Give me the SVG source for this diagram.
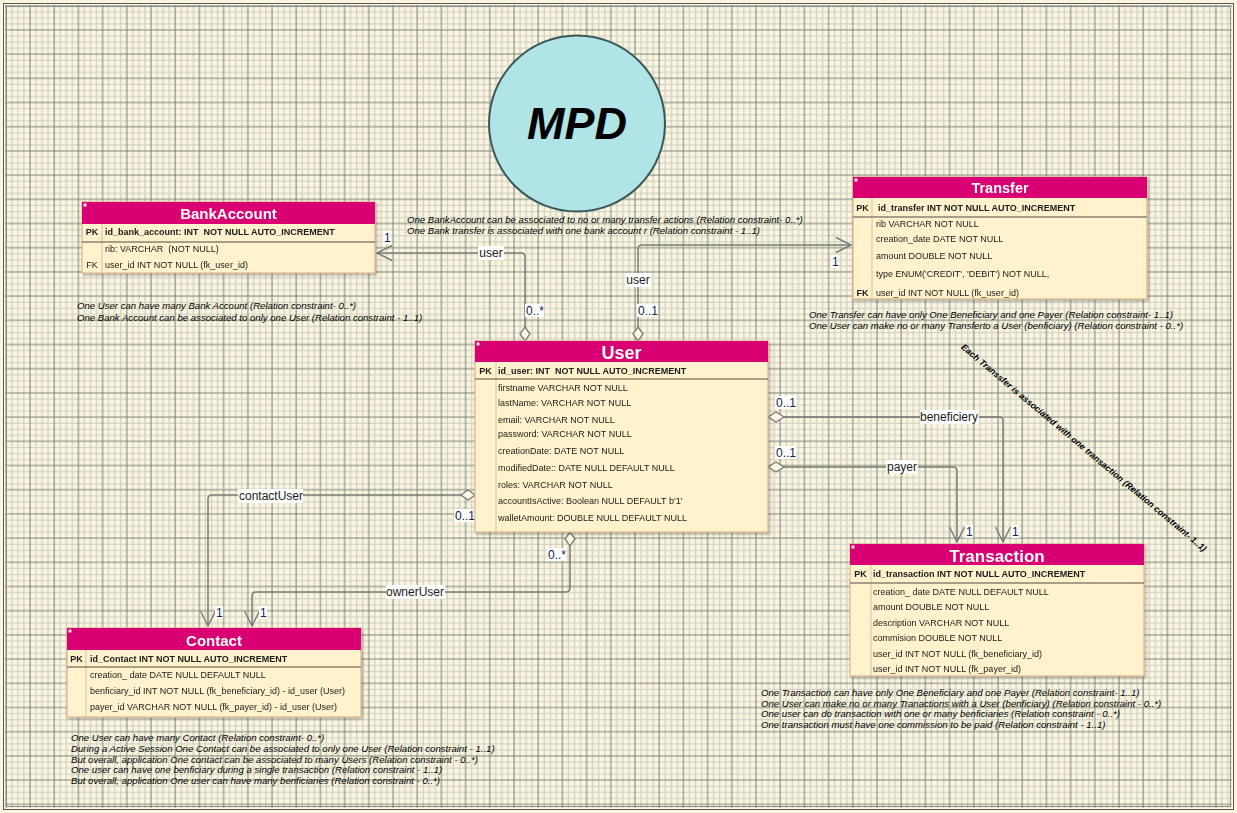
<svg xmlns="http://www.w3.org/2000/svg" width="1237" height="813" viewBox="0 0 1237 813">
<defs>
<pattern id="grid" x="27" y="27" width="24.2" height="24.2" patternUnits="userSpaceOnUse">
<path d="M9.05,0V24.2M15.1,0V24.2M21.15,0V24.2M0,9.05H24.2M0,15.1H24.2M0,21.15H24.2" stroke="#d2d3c6" stroke-width="1.4" fill="none"/>
<path d="M3,0V24.2M0,3H24.2" stroke="#6f8278" stroke-width="1" fill="none"/>
</pattern>
<marker id="arr" viewBox="-2 -2 19 19" refX="15" refY="7.5" markerWidth="19" markerHeight="19" markerUnits="userSpaceOnUse" orient="auto">
<path d="M0,0 L15,7.5 L0,15" fill="none" stroke="#7a7a7a" stroke-width="1.4"/>
</marker>
<filter id="sh" x="-5%" y="-5%" width="110%" height="115%"><feDropShadow dx="1.5" dy="2" stdDeviation="1" flood-color="#000" flood-opacity="0.25"/></filter>
</defs>
<style>
text{font-family:"Liberation Sans",Arial,sans-serif;white-space:pre}
.hd{font-weight:bold;fill:#fff;text-anchor:middle}
.pk{font-size:9px;font-weight:bold;fill:#1a1a1a}
.pkl{font-size:9px;font-weight:bold;fill:#1a1a1a;text-anchor:middle}
.row{font-size:9px;fill:#1a1a1a}
.note{font-size:9.6px;font-style:italic;fill:#000}
.lbl{font-size:12px;fill:#1a1a1a;text-anchor:middle}
.mul{font-size:12px;fill:#12224a}
.body{fill:#fff2cc;stroke:#d9b48e;stroke-width:1.2}
.head{fill:#d80073}
.sep{stroke:#8c7f72;stroke-width:1.5}
.div{stroke:#dcc09c;stroke-width:1}
.mk{fill:#e8e8e8}
.conn{fill:none;stroke:#7a7a7a;stroke-width:1.5;stroke-linejoin:round}
.dia{fill:#fff8e6;stroke:#7a7a7a;stroke-width:1.3}
.bg{fill:#fff}
</style>
<rect width="1237" height="813" fill="#fdf5df"/>
<rect x="5" y="5" width="1227" height="803" fill="url(#grid)"/>
<rect x="3.5" y="3.5" width="1230" height="806" fill="none" stroke="#5a5a5a" stroke-width="1"/>
<rect x="6.5" y="6.5" width="1224" height="800" fill="none" stroke="#8a8a8a" stroke-width="1"/>

<g id="mpd">
<circle cx="577" cy="123.5" r="88" fill="#b1e4e7" stroke="#3b5858" stroke-width="2"/>
<text x="577" y="139" style="font-size:45px;font-weight:bold;font-style:italic;fill:#000;text-anchor:middle">MPD</text>
</g>

<g id="connectors">
<path class="conn" d="M525,327 V257 Q525,253 521,253 H377" marker-end="url(#arr)"/>
<path class="dia" d="M525,327 L530,334 L525,341 L520,334 Z"/>
<path class="conn" d="M638,327 V249 Q638,245 642,245 H851" marker-end="url(#arr)"/>
<path class="dia" d="M638,327 L643,334 L638,341 L633,334 Z"/>
<path class="conn" d="M784,417 H999 Q1003,417 1003,421 V542" marker-end="url(#arr)"/>
<path class="dia" d="M768,417 L776,412 L784,417 L776,422 Z"/>
<path class="conn" d="M784,467 H953 Q957,467 957,471 V542" marker-end="url(#arr)"/>
<path class="dia" d="M768,467 L776,462 L784,467 L776,472 Z"/>
<path class="conn" d="M461,495 H212 Q208,495 208,499 V626" marker-end="url(#arr)"/>
<path class="dia" d="M475,495 L468,490 L461,495 L468,500 Z"/>
<path class="conn" d="M570,546 V588 Q570,592 566,592 H256 Q252,592 252,596 V626" marker-end="url(#arr)"/>
<path class="dia" d="M570,532 L575,539 L570,546 L565,539 Z"/>

<rect class="bg" x="478" y="246" width="26" height="14"/>
<text class="lbl" x="491" y="257">user</text>
<rect class="bg" x="625" y="273" width="26" height="14"/>
<text class="lbl" x="638" y="284">user</text>
<rect class="bg" x="920" y="410" width="59" height="14"/>
<text class="lbl" x="949" y="421">beneficiery</text>
<rect class="bg" x="886" y="460" width="32" height="14"/>
<text class="lbl" x="902" y="471">payer</text>
<rect class="bg" x="238" y="489" width="65" height="14"/>
<text class="lbl" x="271" y="500">contactUser</text>
<rect class="bg" x="386" y="585" width="59" height="14"/>
<text class="lbl" x="415" y="596">ownerUser</text>

<rect class="bg" x="383" y="231" width="8" height="13"/>
<text class="mul" x="384" y="242">1</text>
<rect class="bg" x="525" y="304" width="19" height="13"/>
<text class="mul" x="526" y="315">0..*</text>
<rect class="bg" x="637" y="304" width="21" height="13"/>
<text class="mul" x="638" y="315">0..1</text>
<rect class="bg" x="831" y="255" width="8" height="13"/>
<text class="mul" x="832" y="266">1</text>
<rect class="bg" x="775" y="396" width="21" height="13"/>
<text class="mul" x="776" y="407">0..1</text>
<rect class="bg" x="775" y="446" width="21" height="13"/>
<text class="mul" x="776" y="457">0..1</text>
<rect class="bg" x="965" y="525" width="8" height="13"/>
<text class="mul" x="966" y="536">1</text>
<rect class="bg" x="1011" y="525" width="8" height="13"/>
<text class="mul" x="1012" y="536">1</text>
<rect class="bg" x="454" y="509" width="21" height="13"/>
<text class="mul" x="455" y="520">0..1</text>
<rect class="bg" x="547" y="548" width="19" height="13"/>
<text class="mul" x="548" y="559">0..*</text>
<rect class="bg" x="215" y="606" width="8" height="13"/>
<text class="mul" x="216" y="617">1</text>
<rect class="bg" x="259" y="606" width="8" height="13"/>
<text class="mul" x="260" y="617">1</text>
</g>

<g id="bankaccount" filter="url(#sh)">
<rect class="body" x="82" y="202" width="293" height="71"/>
<rect class="head" x="82" y="202" width="293" height="22"/>
<rect class="mk" x="83.5" y="203.5" width="3" height="3"/>
<line class="div" x1="102" y1="224" x2="102" y2="273"/>
<line class="sep" x1="82" y1="242" x2="375" y2="242"/>
<text class="hd" x="228.5" y="219" style="font-size:15px">BankAccount</text>
<text class="pkl" x="92" y="235">PK</text>
<text class="pk" x="105" y="235">id_bank_account: INT  NOT NULL AUTO_INCREMENT</text>
<text class="row" x="105" y="252">rib: VARCHAR  (NOT NULL)</text>
<text class="row" x="92" y="268" style="text-anchor:middle">FK</text>
<text class="row" x="105" y="268">user_id INT NOT NULL (fk_user_id)</text>
</g>

<g id="transfer" filter="url(#sh)">
<rect class="body" x="853" y="177" width="294" height="122"/>
<rect class="head" x="853" y="177" width="294" height="21"/>
<rect class="mk" x="854.5" y="178.5" width="3" height="3"/>
<line class="div" x1="872" y1="198" x2="872" y2="299"/>
<line class="sep" x1="853" y1="217" x2="1147" y2="217"/>
<text class="hd" x="1000" y="193" style="font-size:14.5px">Transfer</text>
<text class="pkl" x="862.5" y="210.5">PK</text>
<text class="pk" x="878" y="210.5">id_transfer INT NOT NULL AUTO_INCREMENT</text>
<text class="row" x="876" y="226.5">rib VARCHAR NOT NULL</text>
<text class="row" x="876" y="242">creation_date DATE NOT NULL</text>
<text class="row" x="876" y="259">amount DOUBLE NOT NULL</text>
<text class="row" x="876" y="277">type ENUM('CREDIT', 'DEBIT') NOT NULL,</text>
<text class="pkl" x="862.5" y="296">FK</text>
<text class="row" x="876" y="296">user_id INT NOT NULL (fk_user_id)</text>
</g>

<g id="user" filter="url(#sh)">
<rect class="body" x="475" y="341" width="293" height="191"/>
<rect class="head" x="475" y="341" width="293" height="21"/>
<rect class="mk" x="476.5" y="342.5" width="3" height="3"/>
<line class="div" x1="496" y1="362" x2="496" y2="532"/>
<line class="sep" x1="475" y1="379" x2="768" y2="379"/>
<text class="hd" x="621.5" y="359" style="font-size:18px">User</text>
<text class="pkl" x="485.5" y="374">PK</text>
<text class="pk" x="498" y="374">id_user: INT  NOT NULL AUTO_INCREMENT</text>
<text class="row" x="498" y="390.5">firstname VARCHAR NOT NULL</text>
<text class="row" x="498" y="406">lastName: VARCHAR NOT NULL</text>
<text class="row" x="498" y="422.5">email: VARCHAR NOT NULL</text>
<text class="row" x="498" y="437">password: VARCHAR NOT NULL</text>
<text class="row" x="498" y="454">creationDate: DATE NOT NULL</text>
<text class="row" x="498" y="471">modifiedDate:: DATE NULL DEFAULT NULL</text>
<text class="row" x="498" y="487.5">roles: VARCHAR NOT NULL</text>
<text class="row" x="498" y="504">accountIsActive: Boolean NULL DEFAULT b'1'</text>
<text class="row" x="498" y="521">walletAmount: DOUBLE NULL DEFAULT NULL</text>
</g>

<g id="transaction" filter="url(#sh)">
<rect class="body" x="850" y="544" width="294" height="132"/>
<rect class="head" x="850" y="544" width="294" height="21"/>
<rect class="mk" x="851.5" y="545.5" width="3" height="3"/>
<line class="div" x1="871" y1="565" x2="871" y2="676"/>
<line class="sep" x1="850" y1="583" x2="1144" y2="583"/>
<text class="hd" x="997" y="562" style="font-size:17px">Transaction</text>
<text class="pkl" x="860.5" y="577">PK</text>
<text class="pk" x="873" y="577">id_transaction INT NOT NULL AUTO_INCREMENT</text>
<text class="row" x="873" y="595">creation_ date DATE NULL DEFAULT NULL</text>
<text class="row" x="873" y="610">amount DOUBLE NOT NULL</text>
<text class="row" x="873" y="626">description VARCHAR NOT NULL</text>
<text class="row" x="873" y="640.5">commision DOUBLE NOT NULL</text>
<text class="row" x="873" y="656.5">user_id INT NOT NULL (fk_beneficiary_id)</text>
<text class="row" x="873" y="671.5">user_id INT NOT NULL (fk_payer_id)</text>
</g>

<g id="contact" filter="url(#sh)">
<rect class="body" x="67" y="628" width="294" height="89"/>
<rect class="head" x="67" y="628" width="294" height="22"/>
<rect class="mk" x="68.5" y="629.5" width="3" height="3"/>
<line class="div" x1="86" y1="650" x2="86" y2="717"/>
<line class="sep" x1="67" y1="667" x2="361" y2="667"/>
<text class="hd" x="214" y="646" style="font-size:15px">Contact</text>
<text class="pkl" x="76.5" y="661.5">PK</text>
<text class="pk" x="90" y="661.5">id_Contact INT NOT NULL AUTO_INCREMENT</text>
<text class="row" x="90" y="678">creation_ date DATE NULL DEFAULT NULL</text>
<text class="row" x="90" y="694">benficiary_id INT NOT NULL (fk_beneficiary_id) - id_user (User)</text>
<text class="row" x="90" y="710">payer_id VARCHAR NOT NULL (fk_payer_id) - id_user (User)</text>
</g>

<g id="notes">
<text class="note" x="407" y="223">One BankAccount can be associated to no or many transfer actions (Relation constraint- 0..*)</text>
<text class="note" x="407" y="234">One Bank transfer is associated with one bank account r (Relation constraint - 1..1)</text>
<text class="note" x="77" y="308.5">One User can have many Bank Account (Relation constraint- 0..*)</text>
<text class="note" x="77" y="321">One Bank Account can be associated to only one User (Relation constraint - 1..1)</text>
<text class="note" x="809" y="317.5">One Transfer can have only One Beneficiary and one Payer (Relation constraint- 1..1)</text>
<text class="note" x="809" y="328.5">One User can make no or many Transferto a User (benficiary) (Relation constraint - 0..*)</text>
<text class="note" x="71" y="740.5">One User can have many Contact (Relation constraint- 0..*)</text>
<text class="note" x="71" y="751.5">During a Active Session One Contact can be associated to only one User (Relation constraint - 1..1)</text>
<text class="note" x="71" y="762.5">But overall, application One contact can be associated to many Users (Relation constraint - 0..*)</text>
<text class="note" x="71" y="772.5">One user can have one benficiary during a single transaction (Relation constraint - 1..1)</text>
<text class="note" x="71" y="783.5">But overall, application One user can have many benficiaries (Relation constraint - 0..*)</text>
<text class="note" x="761" y="695.5">One Transaction can have only One Beneficiary and one Payer (Relation constraint- 1..1)</text>
<text class="note" x="761" y="706.5">One User can make no or many Tranactions with a User (benficiary) (Relation constraint - 0..*)</text>
<text class="note" x="761" y="717">One user can do transaction with one or many benficiaries (Relation constraint - 0..*)</text>
<text class="note" x="761" y="727.5">One transaction must have one commission to be paid (Relation constraint - 1..1)</text>
<text class="note" transform="translate(1082,450) rotate(40)" style="font-size:8.8px;font-weight:bold;text-anchor:middle">Each Transsfer is associated with one transaction (Relation constraint- 1..1)</text>
</g>
</svg>
